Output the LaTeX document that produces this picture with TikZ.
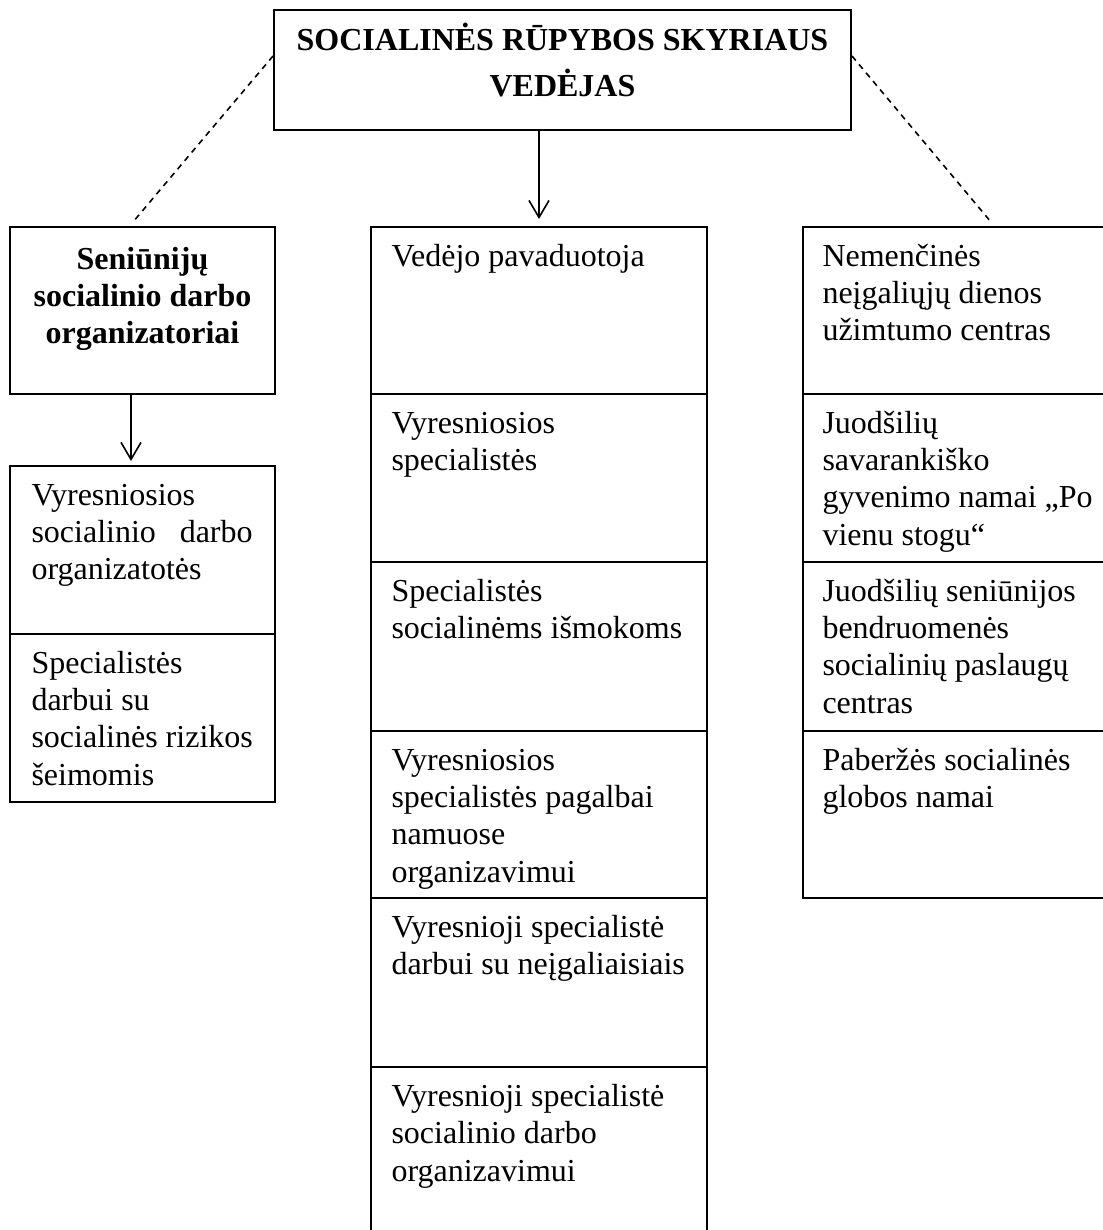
\documentclass[tikz,border=0pt]{standalone}
\usepackage{fontspec}
\setmainfont{Liberation Serif}
\usetikzlibrary{calc,fit,arrows.meta}
\begin{document}
\begin{tikzpicture}[x=0.375pt,y=-0.375pt,
  font=\fontsize{12}{14.06}\selectfont,
  cell/.style={draw, line width=0.75pt, rectangle, inner sep=0pt},
  txt/.style={inner sep=0pt, anchor=base west},
  ctxt/.style={inner sep=0pt, anchor=base},
  conn/.style={line width=0.6pt, -{Straight Barb[length=6.4pt,width=7.5pt]}},
  dashconn/.style={line width=0.6pt, dash pattern=on 2.2pt off 1.9pt}
]
\useasboundingbox (0,0) rectangle (1102,1230);

% top box
\node[cell, fit={(274,10) (851,130)}] (top) {};
\node[ctxt] (toptxt) at ($(top.north)+(0,41)$) {\bfseries\begin{tabular}[t]{@{}c@{}}SOCIALINĖS RŪPYBOS SKYRIAUS\\[2.8pt]VEDĖJAS\end{tabular}};

% left column
\node[cell, fit={(10,227) (275,394)}] (l1) {};
\node[cell, fit={(10,466) (275,634)}] (l2) {};
\node[cell, fit={(10,634) (275,802)}] (l3) {};
\node[ctxt] (l1t) at ($(l1.north)+(0,43)$) {\bfseries\begin{tabular}[t]{@{}c@{}}Seniūnijų\\socialinio darbo\\organizatoriai\end{tabular}};
\node[txt] (l2t) at ($(l2.north west)+(22,40)$) {\begin{tabular}[t]{@{}l@{}}Vyresniosios\\\makebox[82.9pt][s]{socialinio darbo}\\organizatotės\end{tabular}};
\node[txt] (l3t) at ($(l3.north west)+(22,40)$) {\begin{tabular}[t]{@{}l@{}}Specialistės\\darbui su\\socialinės rizikos\\šeimomis\end{tabular}};

% centre column
\node[cell, fit={(371,227) (707,394)}] (c1) {};
\node[cell, fit={(371,394) (707,562)}] (c2) {};
\node[cell, fit={(371,562) (707,731)}] (c3) {};
\node[cell, fit={(371,731) (707,898)}] (c4) {};
\node[cell, fit={(371,898) (707,1067)}] (c5) {};
\node[cell, fit={(371,1067) (707,1250)}] (c6) {};
\node[txt] (c1t) at ($(c1.north west)+(21,40)$) {\begin{tabular}[t]{@{}l@{}}Vedėjo pavaduotoja\end{tabular}};
\node[txt] (c2t) at ($(c2.north west)+(21,40)$) {\begin{tabular}[t]{@{}l@{}}Vyresniosios\\specialistės\end{tabular}};
\node[txt] (c3t) at ($(c3.north west)+(21,40)$) {\begin{tabular}[t]{@{}l@{}}Specialistės\\socialinėms išmokoms\end{tabular}};
\node[txt] (c4t) at ($(c4.north west)+(21,40)$) {\begin{tabular}[t]{@{}l@{}}Vyresniosios\\specialistės pagalbai\\namuose\\organizavimui\end{tabular}};
\node[txt] (c5t) at ($(c5.north west)+(21,40)$) {\begin{tabular}[t]{@{}l@{}}Vyresnioji specialistė\\darbui su neįgaliaisiais\end{tabular}};
\node[txt] (c6t) at ($(c6.north west)+(21,40)$) {\begin{tabular}[t]{@{}l@{}}Vyresnioji specialistė\\socialinio darbo\\organizavimui\end{tabular}};

% right column
\node[cell, fit={(803,227) (1115,394)}] (r1) {};
\node[cell, fit={(803,394) (1115,562)}] (r2) {};
\node[cell, fit={(803,562) (1115,731)}] (r3) {};
\node[cell, fit={(803,731) (1115,898)}] (r4) {};
\node[txt] (r1t) at ($(r1.north west)+(20,40)$) {\begin{tabular}[t]{@{}l@{}}Nemenčinės\\neįgaliųjų dienos\\užimtumo centras\end{tabular}};
\node[txt] (r2t) at ($(r2.north west)+(20,40)$) {\begin{tabular}[t]{@{}l@{}}Juodšilių\\savarankiško\\gyvenimo namai „Po\\vienu stogu“\end{tabular}};
\node[txt] (r3t) at ($(r3.north west)+(20,40)$) {\begin{tabular}[t]{@{}l@{}}Juodšilių seniūnijos\\bendruomenės\\socialinių paslaugų\\centras\end{tabular}};
\node[txt] (r4t) at ($(r4.north west)+(20,40)$) {\begin{tabular}[t]{@{}l@{}}Paberžės socialinės\\globos namai\end{tabular}};

% connectors
\draw[conn, shorten >=2.6pt] (c1.north |- top.south) -- (c1.north);
\draw[conn, shorten >=1.5pt] ($(l1.south)+(-11.5,0)$) -- ($(l2.north)+(-11.5,0)$);
\coordinate (tl) at ($(top.north west)+(0,47)$);
\coordinate (tr) at ($(top.north east)+(0,47)$);
\coordinate (dl) at (133,222);
\coordinate (dr) at (991,222);
\draw[dashconn] (tl) -- (dl);
\draw[dashconn] (tr) -- (dr);
\end{tikzpicture}
\end{document}
